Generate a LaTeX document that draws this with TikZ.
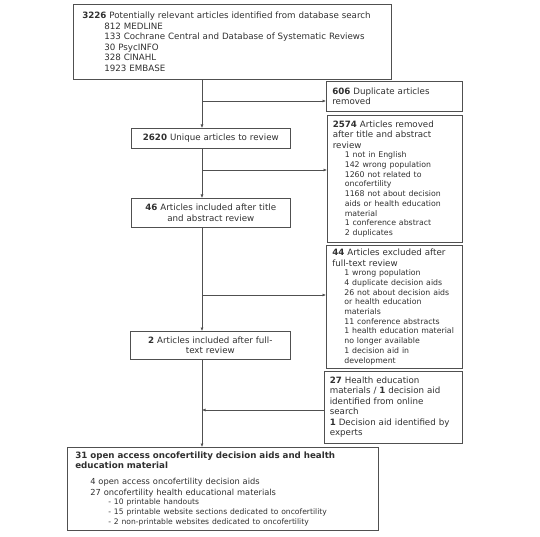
\documentclass[tikz,border=0pt]{standalone}
\usepackage{fontspec}
\setmainfont{DejaVu Sans}
\usetikzlibrary{arrows.meta}
\definecolor{boxc}{HTML}{505050}
\definecolor{txt}{HTML}{303030}
\newcommand{\fs}{\fontsize{8.7}{10.5}\selectfont}
\newcommand{\fsi}{\fontsize{7.8}{9.7}\selectfont}
\newcommand{\fsm}{\fontsize{8.3}{10.2}\selectfont}
\newcommand{\fss}{\fontsize{7.6}{9.8}\selectfont}
\newcommand{\tline}[1]{{\fs #1\par}}
\newcommand{\sitem}[1]{{\fsi\leftskip=12pt #1\par}}
\tikzset{
  box/.style={draw=boxc, line width=0.6pt, inner xsep=6pt, inner ysep=0pt, align=left,
    font=\fs, execute at begin node={\setlength{\parindent}{0pt}}, text=txt, anchor=north west},
  cbox/.style={box, align=center},
  arr/.style={draw=boxc, line width=0.6pt, -{Latex[length=3.5pt,width=3pt]}}
}
\begin{document}
\begin{tikzpicture}[x=1pt,y=-1pt]
\useasboundingbox (0,0) rectangle (540,537);
\coordinate (mx) at (202,0);
\node[box, inner xsep=9pt, minimum width=318pt, minimum height=75pt, text width=300pt] (b1) at (73,4)
 {\textbf{3226} Potentially relevant articles identified from database search\\
  \hspace*{22pt}812 MEDLINE\\
  \hspace*{22pt}133 Cochrane Central and Database of Systematic Reviews\\
  \hspace*{22pt}30 PsycINFO\\
  \hspace*{22pt}328 CINAHL\\
  \hspace*{22pt}1923 EMBASE};
\node[box, minimum width=136pt, minimum height=30pt, text width=124pt] (b606) at (326,81)
 {\textbf{606} Duplicate articles\\removed};
\node[cbox, minimum width=159pt, minimum height=20pt, text width=147pt] (b2620) at (131,128)
 {\textbf{2620} Unique articles to review};
\node[box, minimum width=135pt, minimum height=127pt, text width=124pt, inner xsep=5.5pt] (b2574) at (327,115)
 {\tline{\textbf{2574} Articles removed}
  \tline{after title and abstract}
  \tline{review}
  \sitem{1 not in English}
  \sitem{142 wrong population}
  \sitem{1260 not related to}
  \sitem{oncofertility}
  \sitem{1168 not about decision}
  \sitem{aids or health education}
  \sitem{material}
  \sitem{1 conference abstract}
  \sitem{2 duplicates}};
\node[cbox, minimum width=159pt, minimum height=29pt, text width=147pt] (b46) at (131,198)
 {\textbf{46} Articles included after title\\and abstract review};
\node[box, minimum width=136pt, minimum height=123pt, text width=124pt] (b44) at (326,245)
 {\tline{\textbf{44} Articles excluded after}
  \tline{full-text review}
  \sitem{1 wrong population}
  \sitem{4 duplicate decision aids}
  \sitem{26 not about decision aids}
  \sitem{or health education}
  \sitem{materials}
  \sitem{11 conference abstracts}
  \sitem{1 health education material}
  \sitem{no longer available}
  \sitem{1 decision aid in}
  \sitem{development}};
\node[cbox, minimum width=160pt, minimum height=28pt, text width=148pt] (b2) at (130,331)
 {\textbf{2} Articles included after full-\\text review};
\node[box, minimum width=138pt, minimum height=72pt, text width=127pt, inner xsep=5.5pt] (b27) at (324,371)
 {\textbf{27} Health education\\materials / \textbf{1} decision aid\\identified from online\\search\\
  \textbf{1} Decision aid identified by\\experts};
\node[box, inner xsep=8pt, minimum width=311pt, minimum height=83pt, text width=295pt] (bf) at (67,447)
 {\tline{\textbf{31 open access oncofertility decision aids and health}}
  \tline{\textbf{education material}}
  \vspace{6pt}
  {\fsm\leftskip=15pt 4 open access oncofertility decision aids\par}
  {\fsm\leftskip=15pt 27 oncofertility health educational materials\par}
  {\fss\leftskip=33pt - 10 printable handouts\par}
  {\fss\leftskip=33pt - 15 printable website sections dedicated to oncofertility\par}
  {\fss\leftskip=33pt - 2 non-printable websites dedicated to oncofertility\par}};
% junctions on the main line
\coordinate (j1) at (202,101);
\coordinate (j2) at (202,170);
\coordinate (j3) at (202,295);
\coordinate (j4) at (202,410);
% main line
\draw[arr] (b1.south -| mx) -- (b2620.north -| mx);
\draw[arr] (b2620.south -| mx) -- (b46.north -| mx);
\draw[arr] (b46.south -| mx) -- (b2.north -| mx);
\draw[arr] (b2.south -| mx) -- (bf.north -| mx);
% branches
\draw[arr] (j1) -- (j1 -| b606.west);
\draw[arr] (j2) -- (j2 -| b2574.west);
\draw[arr] (j3) -- (j3 -| b44.west);
\draw[arr] (j4 -| b27.west) -- (j4);
\end{tikzpicture}
\end{document}
